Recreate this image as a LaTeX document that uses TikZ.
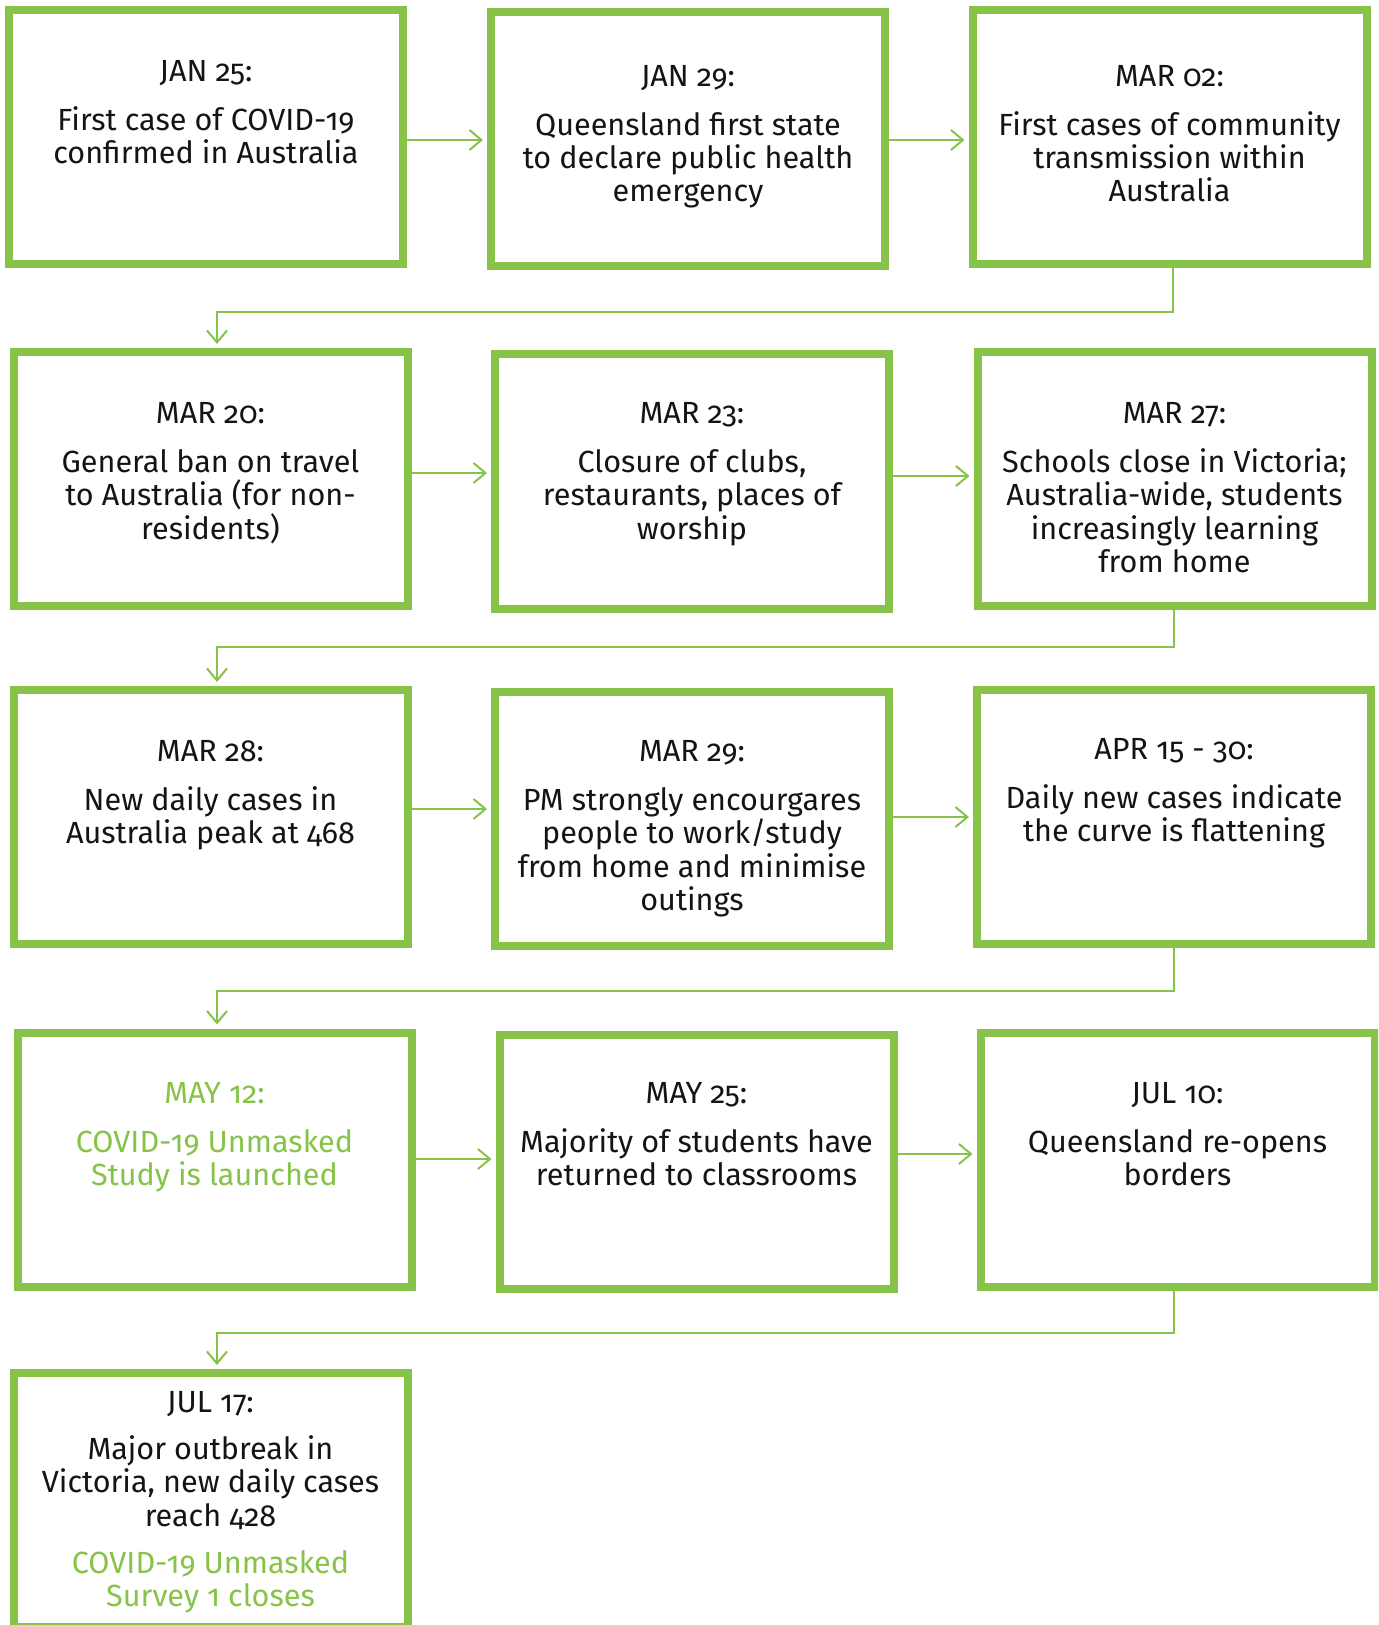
\documentclass[tikz,border=0pt]{standalone}
\usepackage{fontspec}
\setmainfont{Fira Sans}[Numbers=OldStyle]
\usetikzlibrary{arrows.meta}
\definecolor{grn}{RGB}{135,195,72}
\definecolor{ink}{RGB}{20,20,20}
\newcommand{\hd}{\rule{0pt}{13pt}}
\begin{document}
\begin{tikzpicture}[x=0.5pt,y=-0.5pt,
  box/.style={draw=grn,line width=4pt,minimum width=197pt,minimum height=127pt,inner sep=0pt},
  txt/.style={align=center,font=\fontsize{15.3}{16.6}\selectfont,text=ink,anchor=north,inner sep=0pt},
  gtxt/.style={txt,text=grn},
  arr/.style={draw=grn,line width=1pt,-{Straight Barb[length=6pt,width=10pt]},shorten >=2pt}]
\useasboundingbox (0,0) rectangle (1378,1625);
\fill[white] (0,0) rectangle (1378,1625);
\clip (0,0) rectangle (1378,1625);
% boxes
\node[box] (b1) at (206,137) {};
\node[box] (b2) at (688,139.5) {};
\node[box] (b3) at (1169.5,137) {};
\node[box] (b4) at (210.5,479) {};
\node[box] (b5) at (692,481.5) {};
\node[box] (b6) at (1174.5,479) {};
\node[box] (b7) at (210.5,817) {};
\node[box] (b8) at (692,819) {};
\node[box] (b9) at (1174,817) {};
\node[box] (b10) at (214.5,1159.5) {};
\node[box] (b11) at (696.5,1161.5) {};
\node[box] (b12) at (1177.5,1159.5) {};
\node[box] (b13) at (210.5,1500) {};
% texts
\node[txt] (t1) at (206,55) {\hd JAN 25:\\[8pt]First case of COVID-19\\confirmed in Australia};
\node[txt] (t2) at (688,60) {\hd JAN 29:\\[8pt]Queensland first state\\to declare public health\\emergency};
\node[txt] (t3) at (1169.5,60) {\hd MAR 02:\\[8pt]First cases of community\\transmission within\\Australia};
\node[txt] (t4) at (210.5,397) {\hd MAR 20:\\[8pt]General ban on travel\\to Australia (for non-\\residents)};
\node[txt] (t5) at (692,397) {\hd MAR 23:\\[8pt]Closure of clubs,\\restaurants, places of\\worship};
\node[txt] (t6) at (1174.5,397) {\hd MAR 27:\\[8pt]Schools close in Victoria;\\Australia-wide, students\\increasingly learning\\from home};
\node[txt] (t7) at (210.5,735) {\hd MAR 28:\\[8pt]New daily cases in\\Australia peak at 468};
\node[txt] (t8) at (692,735) {\hd MAR 29:\\[8pt]PM strongly encourgares\\people to work/study\\from home and minimise\\outings};
\node[txt] (t9) at (1174,733) {\hd APR 15 - 30:\\[8pt]Daily new cases indicate\\the curve is flattening};
\node[gtxt] (t10) at (214.5,1077) {\hd MAY 12:\\[8pt]COVID-19 Unmasked\\Study is launched};
\node[txt] (t11) at (696.5,1077) {\hd MAY 25:\\[8pt]Majority of students have\\returned to classrooms};
\node[txt] (t12) at (1177.5,1077) {\hd JUL 10:\\[8pt]Queensland re-opens\\borders};
\node[txt] (t13) at (210.5,1386) {\hd JUL 17:\\[7pt]Major outbreak in\\Victoria, new daily cases\\reach 428\\[7pt]\textcolor{grn}{COVID-19 Unmasked}\\\textcolor{grn}{Survey 1 closes}};
% horizontal arrows
\coordinate (h1) at (0,140);
\coordinate (h2) at (0,140);
\coordinate (h3) at (0,473);
\coordinate (h4) at (0,476);
\coordinate (h5) at (0,809);
\coordinate (h6) at (0,817);
\coordinate (h7) at (0,1159);
\coordinate (h8) at (0,1154);
\draw[arr] (b1.east |- h1) -- (b2.west |- h1);
\draw[arr] (b2.east |- h2) -- (b3.west |- h2);
\draw[arr] (b4.east |- h3) -- (b5.west |- h3);
\draw[arr] (b5.east |- h4) -- (b6.west |- h4);
\draw[arr] (b7.east |- h5) -- (b8.west |- h5);
\draw[arr] (b8.east |- h6) -- (b9.west |- h6);
\draw[arr] (b10.east |- h7) -- (b11.west |- h7);
\draw[arr] (b11.east |- h8) -- (b12.west |- h8);
% row-change connectors
\coordinate (c1a) at (1173,312); \coordinate (c1b) at (217,312);
\coordinate (c2a) at (1174,647); \coordinate (c2b) at (217,647);
\coordinate (c3a) at (1174,991); \coordinate (c3b) at (217,991);
\coordinate (c4a) at (1174,1333); \coordinate (c4b) at (217,1333);
\draw[arr] (b3.south -| c1a) -- (c1a) -- (c1b) -- (b4.north -| c1b);
\draw[arr] (b6.south -| c2a) -- (c2a) -- (c2b) -- (b7.north -| c2b);
\draw[arr] (b9.south -| c3a) -- (c3a) -- (c3b) -- (b10.north -| c3b);
\draw[arr] (b12.south -| c4a) -- (c4a) -- (c4b) -- (b13.north -| c4b);
\end{tikzpicture}
\end{document}
